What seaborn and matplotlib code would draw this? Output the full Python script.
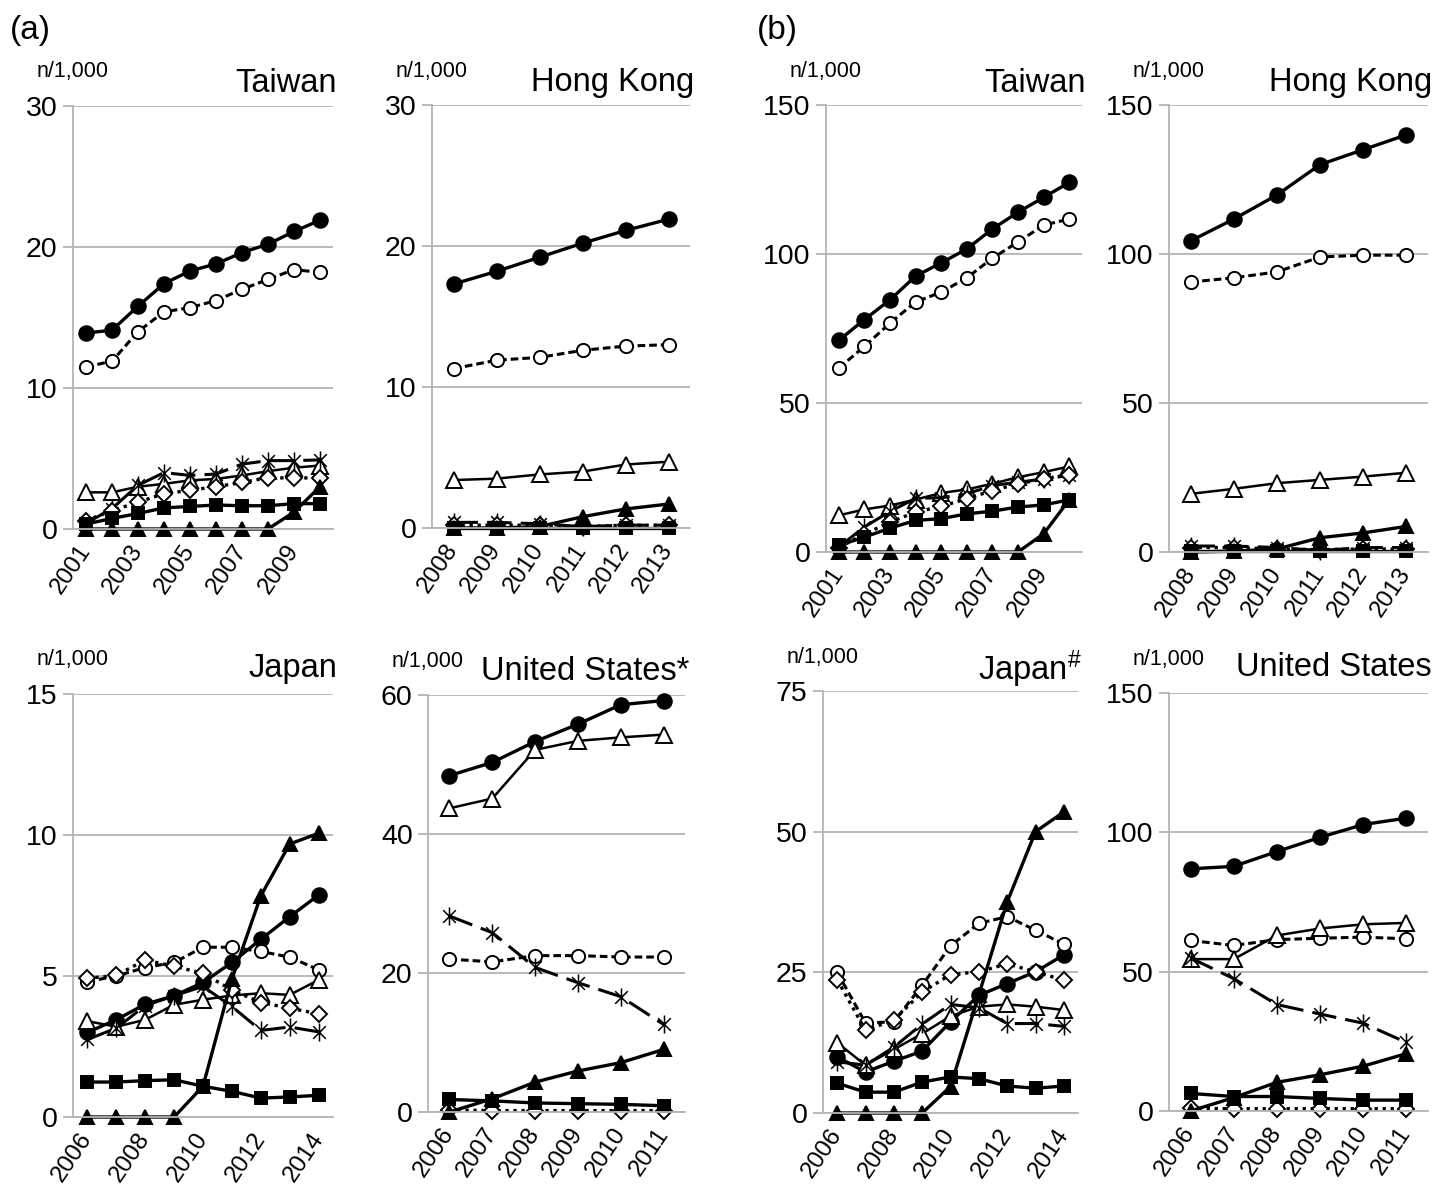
import numpy as np
import pandas as pd
import matplotlib
matplotlib.use('Agg')
import matplotlib.pyplot as plt
from matplotlib.path import Path
import seaborn as sns

sns.set_style('white')
plt.rcParams['font.family'] = ['Liberation Sans', 'DejaVu Sans']
plt.rcParams['mathtext.fontset'] = 'custom'
plt.rcParams['mathtext.rm'] = 'Liberation Sans'
plt.rcParams['mathtext.it'] = 'Liberation Sans'
plt.rcParams['text.color'] = 'black'
plt.rcParams['xtick.labelcolor'] = 'black'
plt.rcParams['ytick.labelcolor'] = 'black'

W, H = 1451, 1187

# ---- data (series order: filled circle, open circle, open triangle,
#      asterisk, open diamond, filled square, filled triangle) ----
years_tw = ['2001', '2002', '2003', '2004', '2005', '2006', '2007', '2008', '2009', '2010']
years_hk = ['2008', '2009', '2010', '2011', '2012', '2013']
years_jp = ['2006', '2007', '2008', '2009', '2010', '2011', '2012', '2013', '2014']
years_us = ['2006', '2007', '2008', '2009', '2010', '2011']

# (a) Taiwan
a_tw_fc = [13.9, 14.1, 15.8, 17.4, 18.3, 18.8, 19.6, 20.2, 21.1, 21.9]
a_tw_oc = [11.5, 11.9, 14.0, 15.4, 15.7, 16.2, 17.0, 17.7, 18.4, 18.2]
a_tw_ot = [2.6, 2.6, 3.0, 3.2, 3.45, 3.55, 3.8, 4.1, 4.35, 4.5]
a_tw_as = [0.4, 1.45, 3.1, 4.0, 3.8, 3.9, 4.6, 4.85, 4.85, 4.9]
a_tw_di = [0.6, 1.3, 1.9, 2.5, 2.75, 3.0, 3.3, 3.65, 3.6, 3.65]
a_tw_sq = [0.35, 0.75, 1.1, 1.5, 1.6, 1.7, 1.65, 1.65, 1.8, 1.8]
a_tw_ft = [0, 0, 0, 0, 0, 0, 0, 0, 1.2, 3.0]

# (a) Hong Kong
a_hk_fc = [17.3, 18.2, 19.2, 20.2, 21.1, 21.9]
a_hk_oc = [11.3, 11.9, 12.1, 12.6, 12.9, 13.0]
a_hk_ot = [3.4, 3.5, 3.8, 4.0, 4.5, 4.7]
a_hk_as = [0.4, 0.4, 0.3, 0.1, 0.2, 0.2]
a_hk_di = [0.2, 0.2, 0.2, 0.1, 0.2, 0.2]
a_hk_sq = [0.0, 0.0, 0.0, 0.0, 0.0, 0.0]
a_hk_ft = [0.0, 0.0, 0.1, 0.8, 1.35, 1.7]

# (a) Japan
a_jp_fc = [3.0, 3.45, 4.0, 4.3, 4.77, 5.48, 6.3, 7.1, 7.87]
a_jp_oc = [4.8, 5.0, 5.3, 5.48, 6.02, 6.02, 5.87, 5.67, 5.22]
a_jp_ot = [3.4, 3.2, 3.45, 3.98, 4.16, 4.31, 4.39, 4.33, 4.86]
a_jp_as = [2.75, 3.15, 3.95, 4.3, 4.63, 3.92, 3.07, 3.19, 3.02]
a_jp_di = [4.92, 5.02, 5.57, 5.34, 5.1, 4.5, 4.06, 3.86, 3.66]
a_jp_sq = [1.24, 1.24, 1.29, 1.32, 1.09, 0.91, 0.67, 0.71, 0.77]
a_jp_ft = [0, 0, 0, 0, 1.09, 4.89, 7.84, 9.68, 10.06]

# (a) United States
a_us_fc = [48.4, 50.3, 53.3, 55.8, 58.6, 59.2]
a_us_oc = [22.0, 21.6, 22.5, 22.5, 22.3, 22.3]
a_us_ot = [43.7, 45.1, 52.1, 53.4, 53.9, 54.3]
a_us_as = [28.2, 25.8, 20.8, 18.6, 16.6, 12.6]
a_us_di = [0.3, 0.2, 0.2, 0.2, 0.2, 0.2]
a_us_sq = [1.8, 1.6, 1.3, 1.2, 1.1, 0.9]
a_us_ft = [0.0, 1.9, 4.3, 5.9, 7.1, 9.0]

# (b) Taiwan
b_tw_fc = [71, 78, 84.6, 92.6, 97, 101.7, 108.4, 114, 119, 124]
b_tw_oc = [61.7, 69, 76.8, 83.9, 87.2, 92, 98.6, 104, 109.7, 111.7]
b_tw_ot = [12.3, 14.3, 15.6, 17.6, 19.8, 21, 22.9, 25.1, 26.8, 28.7]
b_tw_as = [1.7, 8.4, 13.6, 18, 18.2, 19.5, 22.3, 23.4, 24.5, 25.7]
b_tw_di = [1.5, 6, 10, 13.4, 15.3, 17.9, 20.6, 22.9, 24.5, 26]
b_tw_sq = [2.2, 5, 8, 10.6, 11.2, 12.8, 13.7, 15.1, 15.8, 17.5]
b_tw_ft = [0, 0, 0, 0, 0, 0, 0, 0, 6.1, 17.5]

# (b) Hong Kong
b_hk_fc = [104.4, 111.7, 119.8, 130, 135, 140]
b_hk_oc = [90.6, 92, 94, 99, 99.6, 99.6]
b_hk_ot = [19.5, 21.2, 23.1, 24.2, 25.3, 26.6]
b_hk_as = [2.0, 2.0, 1.5, 0.5, 1.5, 1.5]
b_hk_di = [1.5, 1.5, 1.0, 0.8, 1.0, 1.0]
b_hk_sq = [0.3, 0.3, 0.3, 0.3, 0.3, 0.3]
b_hk_ft = [0.0, 0.3, 1.0, 4.8, 6.4, 8.6]

# (b) Japan
b_jp_fc = [9.96, 7.3, 9.2, 11.0, 16.2, 20.9, 23.0, 25.1, 28.1]
b_jp_oc = [25.0, 16.0, 16.2, 22.7, 29.7, 33.7, 34.9, 32.5, 30.0]
b_jp_ot = [12.5, 8.5, 11.3, 14.1, 17.2, 18.9, 19.3, 18.9, 18.3]
b_jp_as = [9.1, 8.5, 11.7, 15.8, 19.3, 18.7, 15.9, 15.9, 15.4]
b_jp_di = [23.7, 14.7, 16.5, 21.5, 24.6, 25.1, 26.5, 25.1, 23.6]
b_jp_sq = [5.3, 3.7, 3.7, 5.5, 6.4, 6.1, 4.8, 4.4, 4.8]
b_jp_ft = [0, 0, 0, 0, 4.7, 21.0, 37.5, 50.0, 53.5]

# (b) United States
b_us_fc = [86.9, 87.8, 93.1, 98.2, 102.8, 105.1]
b_us_oc = [61.2, 59.4, 61.5, 62.0, 62.4, 61.8]
b_us_ot = [54.5, 54.5, 63.0, 65.5, 67.0, 67.5]
b_us_as = [54.9, 47.5, 38.2, 34.8, 31.5, 24.6]
b_us_di = [1.0, 0.8, 0.8, 0.8, 0.8, 0.8]
b_us_sq = [6.3, 5.2, 5.2, 4.5, 3.9, 3.9]
b_us_ft = [0.0, 4.8, 10.3, 13.0, 16.1, 20.6]

# Excel-like asterisk: an x with a vertical bar
ast = Path([(-0.7, -0.7), (0.7, 0.7), (-0.7, 0.7), (0.7, -0.7), (0, -1), (0, 1)],
           [Path.MOVETO, Path.LINETO, Path.MOVETO, Path.LINETO, Path.MOVETO, Path.LINETO])

# ---- series styles ----
STYLES = [
    dict(marker='o', markerfacecolor='black', linestyle='-', linewidth=2.4, markersize=10.5, markeredgewidth=1.4),
    dict(marker='o', markerfacecolor='white', linestyle=(0, (2.5, 1.3)), linewidth=2.2, markersize=9.5, markeredgewidth=1.4),
    dict(marker='^', markerfacecolor='white', linestyle='-', linewidth=1.8, markersize=11, markeredgewidth=1.4),
    dict(marker=ast, markerfacecolor='none', linestyle=(0, (8, 3)), linewidth=2.2, markersize=13, markeredgewidth=1.1),
    dict(marker='D', markerfacecolor='white', linestyle=(0, (1, 1.4)), linewidth=2.4, markersize=8, markeredgewidth=1.4),
    dict(marker='s', markerfacecolor='black', linestyle='-', linewidth=2.4, markersize=9, markeredgewidth=1.4),
    dict(marker='^', markerfacecolor='black', linestyle='-', linewidth=2.4, markersize=10, markeredgewidth=1.4),
]

# panel: (years, series, ymax, ystep, title, label step, rect px (l, t, r, b), title y px)
panels = [
    (years_tw, [a_tw_fc, a_tw_oc, a_tw_ot, a_tw_as, a_tw_di, a_tw_sq, a_tw_ft], 30, 10, 'Taiwan', 2,
     (73, 106, 333, 529), 84),
    (years_hk, [a_hk_fc, a_hk_oc, a_hk_ot, a_hk_as, a_hk_di, a_hk_sq, a_hk_ft], 30, 10, 'Hong Kong', 1,
     (432, 105, 690, 528), 82),
    (years_tw, [b_tw_fc, b_tw_oc, b_tw_ot, b_tw_as, b_tw_di, b_tw_sq, b_tw_ft], 150, 50, 'Taiwan', 2,
     (826, 105, 1082, 552), 84),
    (years_hk, [b_hk_fc, b_hk_oc, b_hk_ot, b_hk_as, b_hk_di, b_hk_sq, b_hk_ft], 150, 50, 'Hong Kong', 1,
     (1169, 105, 1428, 552), 82),
    (years_jp, [a_jp_fc, a_jp_oc, a_jp_ot, a_jp_as, a_jp_di, a_jp_sq, a_jp_ft], 15, 5, 'Japan', 2,
     (73, 694, 333, 1117), 669),
    (years_us, [a_us_fc, a_us_oc, a_us_ot, a_us_as, a_us_di, a_us_sq, a_us_ft], 60, 20, 'United States*', 1,
     (428, 695, 685, 1112), 671),
    (years_jp, [b_jp_fc, b_jp_oc, b_jp_ot, b_jp_as, b_jp_di, b_jp_sq, b_jp_ft], 75, 25, r'Japan$^{\#}$', 2,
     (823, 691, 1078, 1113), 669),
    (years_us, [b_us_fc, b_us_oc, b_us_ot, b_us_as, b_us_di, b_us_sq, b_us_ft], 150, 50, 'United States', 1,
     (1169, 693, 1428, 1111), 667),
]

grid_c = '#b4b4b4'

fig = plt.figure(figsize=(W / 100, H / 100), dpi=100)

for years, series, ymax, ystep, title, step, (l, t, r, b), ty in panels:
    ax = fig.add_axes([l / W, 1 - b / H, (r - l) / W, (b - t) / H])
    n = len(years)
    pos = np.arange(n)
    for vals, st in zip(series, STYLES):
        df = pd.DataFrame({'x': pos, 'y': vals})
        sns.lineplot(data=df, x='x', y='y', ax=ax, color='black',
                     markeredgecolor='black', clip_on=False, errorbar=None, **st)
    ax.set_xlim(-0.5, n - 0.5)
    ax.set_ylim(0, ymax)
    yt = np.arange(0, ymax + ystep, ystep)
    ax.set_yticks(yt)
    ax.set_yticklabels([str(int(v)) for v in yt], fontsize=20.5)
    ax.yaxis.grid(True, color=grid_c, linewidth=1.3)
    ax.set_axisbelow(True)
    ax.set_xticks(pos[::step])
    ax.set_xticklabels(years[::step], fontsize=17.5, rotation=56, ha='right',
                       va='center', rotation_mode='anchor')
    ax.set_xticks(np.arange(n + 1) - 0.5, minor=True)
    ax.tick_params(axis='x', which='major', length=0, pad=13)
    ax.tick_params(axis='x', which='minor', length=8, color=grid_c, width=1.3)
    ax.tick_params(axis='y', which='major', length=7, color=grid_c, width=1.3, pad=4, left=True)
    for s in ['top', 'right']:
        ax.spines[s].set_visible(False)
    for s in ['left', 'bottom']:
        ax.spines[s].set_color(grid_c)
        ax.spines[s].set_linewidth(1.3)
    ax.set_xlabel('')
    ax.set_ylabel('')
    fig.text((l - 36) / W, 1 - (t - 34) / H, 'n/1,000', fontsize=15.5, ha='left', va='center')
    fig.text((r + 4) / W, 1 - ty / H, title, fontsize=23.5, ha='right', va='center')

fig.text(10 / W, 1 - 30 / H, '(a)', fontsize=24, ha='left', va='center')
fig.text(757 / W, 1 - 30 / H, '(b)', fontsize=24, ha='left', va='center')

fig.savefig('out.png', dpi=100)
